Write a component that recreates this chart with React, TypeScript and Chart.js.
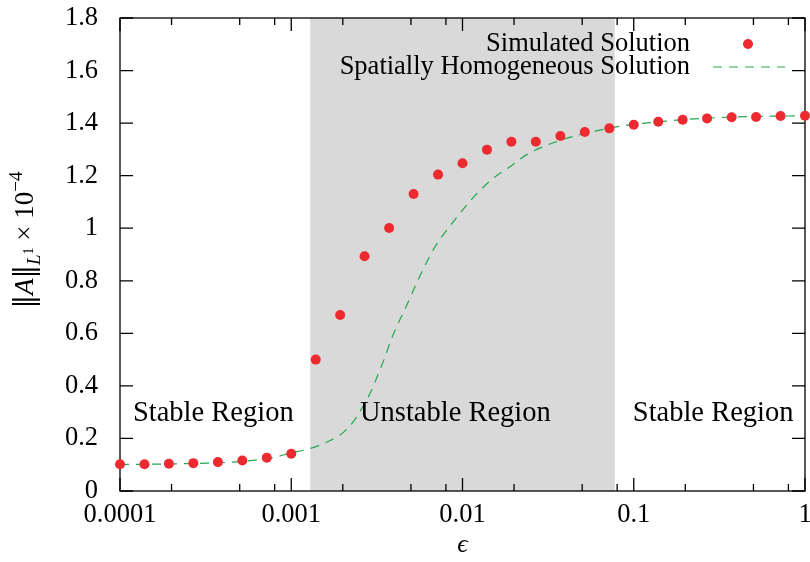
import React, { useEffect, useRef } from 'react';
import { Chart, registerables } from 'chart.js';

Chart.register(...registerables);

// ---------- data ----------
const simEps = [
  1e-4, 1.39e-4, 1.93e-4, 2.68e-4, 3.73e-4, 5.18e-4, 7.2e-4,
  1e-3, 1.39e-3, 1.93e-3, 2.68e-3, 3.73e-3, 5.18e-3, 7.2e-3,
  1e-2, 1.39e-2, 1.93e-2, 2.68e-2, 3.73e-2, 5.18e-2, 7.2e-2,
  0.1, 0.139, 0.193, 0.268, 0.373, 0.518, 0.72, 1,
];
const simValues = [
  0.102, 0.102, 0.104, 0.106, 0.11, 0.116, 0.127,
  0.142, 0.5, 0.67, 0.893, 1.001, 1.13, 1.204,
  1.247, 1.299, 1.329, 1.329, 1.351, 1.366, 1.38,
  1.394, 1.405, 1.413, 1.418, 1.422, 1.423, 1.427, 1.428,
];
const homEps = [
  1e-4, 2e-4, 3.16e-4, 5.01e-4, 7.94e-4, 1e-3, 1.175e-3, 1.38e-3,
  1.78e-3, 2.04e-3, 2.34e-3, 2.69e-3, 2.95e-3, 3.24e-3, 3.47e-3,
  3.89e-3, 4.68e-3, 5.5e-3, 6.92e-3, 8.71e-3, 1.12e-2, 1.48e-2,
  1.95e-2, 2.4e-2, 3.8e-2, 7.08e-2, 0.1, 0.158, 0.251, 0.501, 1,
];
const homValues = [
  0.101, 0.103, 0.106, 0.112, 0.128, 0.145, 0.155, 0.168,
  0.2, 0.226, 0.27, 0.334, 0.384, 0.45, 0.498,
  0.587, 0.701, 0.803, 0.93, 1.019, 1.107, 1.185,
  1.24, 1.282, 1.336, 1.38, 1.395, 1.408, 1.418, 1.425, 1.428,
];
const seriesLabels = ['Simulated Solution', 'Spatially Homogeneous Solution'];
const xMajorTicks = [1e-4, 1e-3, 1e-2, 1e-1, 1];
const xMajorLabels = ['0.0001', '0.001', '0.01', '0.1', '1'];
const xMinorTicks = [2e-4, 5e-4, 8e-4, 2e-3, 5e-3, 8e-3, 2e-2, 5e-2, 8e-2, 0.2, 0.5, 0.8];
const yTicks = [0, 0.2, 0.4, 0.6, 0.8, 1, 1.2, 1.4, 1.6, 1.8];
const yTickLabels = ['0', '0.2', '0.4', '0.6', '0.8', '1', '1.2', '1.4', '1.6', '1.8'];
const unstableRange = [0.00129, 0.0775];
const regionTexts = ['Stable Region', 'Unstable Region', 'Stable Region'];
const regionAnchorsEps = [1.19e-4, 2.52e-3, 0.0987];
const regionAnchorValue = 0.266;
const xTitle = 'ϵ';

const RED = '#ed2a2f';
const GREEN = '#22a84f';
const SHADE = '#d9d9d9';
const SERIF = '"Liberation Serif", "DejaVu Serif", serif';

const decorPlugin = {
  id: 'decor',
  beforeDatasetsDraw(chart: any) {
    const { ctx, chartArea: a } = chart;
    const x = chart.scales.x;
    const y = chart.scales.y;
    ctx.save();
    const x0 = x.getPixelForValue(unstableRange[0]);
    const x1 = x.getPixelForValue(unstableRange[1]);
    ctx.fillStyle = SHADE;
    ctx.fillRect(x0, a.top, x1 - x0, a.bottom - a.top);

    ctx.strokeStyle = '#000';
    ctx.lineWidth = 1.3;
    ctx.strokeRect(a.left, a.top, a.right - a.left, a.bottom - a.top);

    ctx.beginPath();
    const tick = (v: number, len: number) => {
      const px = x.getPixelForValue(v);
      ctx.moveTo(px, a.bottom);
      ctx.lineTo(px, a.bottom - len);
      ctx.moveTo(px, a.top);
      ctx.lineTo(px, a.top + len);
    };
    xMajorTicks.forEach((v) => tick(v, 13));
    xMinorTicks.forEach((v) => tick(v, 7));
    yTicks.forEach((v) => {
      const py = y.getPixelForValue(v);
      ctx.moveTo(a.left, py);
      ctx.lineTo(a.left + 13, py);
      ctx.moveTo(a.right, py);
      ctx.lineTo(a.right - 13, py);
    });
    ctx.stroke();
    ctx.restore();
  },
  afterDatasetsDraw(chart: any) {
    const { ctx, chartArea: a } = chart;
    const x = chart.scales.x;
    const y = chart.scales.y;
    ctx.save();
    ctx.fillStyle = '#000';
    ctx.font = `28.5px ${SERIF}`;
    ctx.textBaseline = 'alphabetic';
    ctx.textAlign = 'left';
    regionTexts.forEach((t, i) => {
      ctx.fillText(t, x.getPixelForValue(regionAnchorsEps[i]), y.getPixelForValue(regionAnchorValue));
    });

    // legend
    const ds = chart.data.datasets;
    const textRight = a.right - 115;
    const ly0 = a.top + 26;
    const ly1 = a.top + 49;
    ctx.font = `26.5px ${SERIF}`;
    ctx.textAlign = 'right';
    ctx.textBaseline = 'middle';
    ctx.fillText(ds[0].label, textRight, ly0);
    ctx.fillText(ds[1].label, textRight, ly1);
    ctx.fillStyle = RED;
    ctx.beginPath();
    ctx.arc(textRight + 58, ly0, 5, 0, Math.PI * 2);
    ctx.fill();
    ctx.strokeStyle = GREEN;
    ctx.lineWidth = 1.2;
    ctx.setLineDash([9, 7]);
    ctx.beginPath();
    ctx.moveTo(textRight + 23, ly1);
    ctx.lineTo(textRight + 95, ly1);
    ctx.stroke();
    ctx.setLineDash([]);

    // x title
    ctx.fillStyle = '#000';
    ctx.textAlign = 'center';
    ctx.textBaseline = 'middle';
    ctx.font = `italic 26px ${SERIF}`;
    ctx.fillText(xTitle, (a.left + a.right) / 2, 545);

    // y title: ||A||_{L^1} x 10^{-4}
    const parts = [
      { t: '‖', f: `27px "DejaVu Serif", serif`, dy: 0 },
      { t: 'A', f: `italic 27px ${SERIF}`, dy: 0 },
      { t: '‖', f: `27px "DejaVu Serif", serif`, dy: 0 },
      { t: 'L', f: `italic 19px ${SERIF}`, dy: 7 },
      { t: '1', f: `14px ${SERIF}`, dy: 0 },
      { t: ' × 10', f: `27px ${SERIF}`, dy: 0 },
      { t: '−4', f: `19px ${SERIF}`, dy: -11 },
    ];
    let total = 0;
    const widths = parts.map((p) => {
      ctx.font = p.f;
      const w = ctx.measureText(p.t).width;
      total += w;
      return w;
    });
    ctx.translate(33, 240);
    ctx.rotate(-Math.PI / 2);
    ctx.textAlign = 'left';
    ctx.textBaseline = 'alphabetic';
    let cx = -total / 2;
    parts.forEach((p, i) => {
      ctx.font = p.f;
      ctx.fillText(p.t, cx, p.dy);
      cx += widths[i];
    });
    ctx.restore();
  },
};

export default function App() {
  const ref = useRef<HTMLCanvasElement | null>(null);
  useEffect(() => {
    document.body.style.margin = '0';
    const canvas = ref.current;
    if (!canvas) return;
    Chart.defaults.font.family = SERIF;
    Chart.defaults.color = '#000';
    const chart = new Chart(canvas, {
      type: 'scatter',
      data: {
        datasets: [
          {
            label: seriesLabels[0],
            data: simEps.map((e, i) => ({ x: e, y: simValues[i] })),
            showLine: false,
            pointRadius: 5,
            pointHoverRadius: 5,
            pointBackgroundColor: RED,
            pointBorderWidth: 0,
            backgroundColor: RED,
            borderColor: RED,
            clip: false,
            order: 0,
          },
          {
            label: seriesLabels[1],
            data: homEps.map((e, i) => ({ x: e, y: homValues[i] })),
            showLine: true,
            pointRadius: 0,
            borderColor: GREEN,
            borderWidth: 1.2,
            borderDash: [9, 7],
            cubicInterpolationMode: 'monotone',
            fill: false,
            order: 1,
          },
        ],
      },
      options: {
        responsive: false,
        animation: false,
        events: [],
        layout: { padding: { left: 0, right: 2, top: 18, bottom: 0 } },
        plugins: {
          legend: { display: false },
          tooltip: { enabled: false },
        },
        scales: {
          x: {
            type: 'logarithmic',
            min: 1e-4,
            max: 1,
            grid: { display: false, drawTicks: false },
            border: { display: false },
            afterBuildTicks: (s: any) => {
              s.ticks = xMajorTicks.map((v) => ({ value: v, major: true }));
            },
            ticks: {
              autoSkip: false,
              maxRotation: 0,
              padding: 8,
              font: { size: 26.5, family: SERIF },
              color: '#000',
              callback: (v: any) => {
                const i = xMajorTicks.findIndex((m) => Math.abs(m - v) / m < 1e-6);
                return i >= 0 ? xMajorLabels[i] : '';
              },
            },
            afterFit: (s: any) => {
              s.height = 71;
              s.paddingLeft = 0;
              s.paddingRight = 0;
            },
          },
          y: {
            min: 0,
            max: 1.8,
            grid: { display: false, drawTicks: false },
            border: { display: false },
            afterBuildTicks: (s: any) => {
              s.ticks = yTicks.map((v) => ({ value: v }));
            },
            ticks: {
              padding: 22,
              font: { size: 26.5, family: SERIF },
              color: '#000',
              callback: (v: any) => {
                const i = yTicks.findIndex((m) => Math.abs(m - v) < 1e-9);
                return i >= 0 ? yTickLabels[i] : '';
              },
            },
            afterFit: (s: any) => {
              s.width = 120;
              s.paddingTop = 0;
              s.paddingBottom = 0;
            },
          },
        },
      },
      plugins: [decorPlugin],
    } as any);
    return () => chart.destroy();
  }, []);
  return (
    <div style={{ width: 810, height: 562 }}>
      <canvas ref={ref} width={810} height={562} style={{ display: 'block' }} />
    </div>
  );
}
